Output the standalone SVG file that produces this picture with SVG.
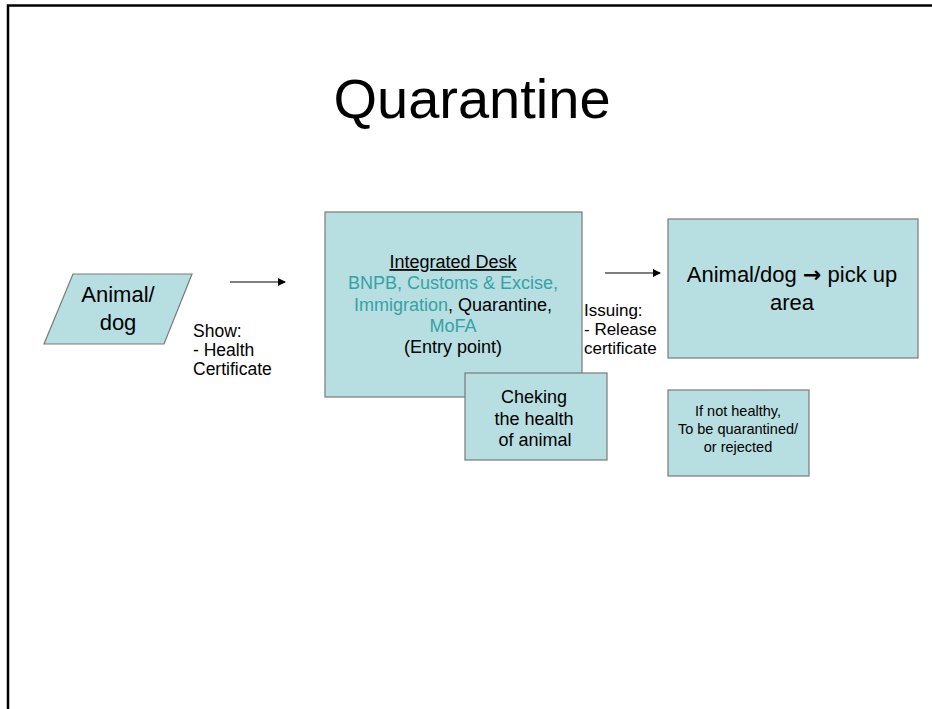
<svg xmlns="http://www.w3.org/2000/svg" width="932" height="709" viewBox="0 0 932 709">
<style>
text{font-family:"Liberation Sans",Arial,sans-serif;fill:#000}
.box{fill:#b7dee1;stroke:#7a7a7a;stroke-width:1.2}
.teal{fill:#33a3a6}
.conn{stroke:#000;stroke-width:1.2;fill:none}
.arr{font-family:"DejaVu Sans",sans-serif;font-weight:bold}
</style>
<defs>
<marker id="ah" markerWidth="8" markerHeight="8" refX="7" refY="4" orient="auto" markerUnits="userSpaceOnUse">
<path d="M0,0 L8,4 L0,8 Z" fill="#000"/>
</marker>
</defs>
<rect width="932" height="709" fill="#fff"/>
<path d="M8,709 V5.5 H932" fill="none" stroke="#000" stroke-width="2.5"/>
<text x="472" y="118" font-size="56" text-anchor="middle">Quarantine</text>

<g id="animal">
<polygon class="box" points="73,274 192,274 164,344 44,344"/>
<text x="118" y="302" font-size="22" text-anchor="middle">Animal/</text>
<text x="118" y="330" font-size="22" text-anchor="middle">dog</text>
</g>

<g id="desk">
<rect class="box" x="325" y="212" width="257" height="185"/>
<text x="453" y="268" font-size="18" text-anchor="middle" text-decoration="underline">Integrated  Desk</text>
<text x="453" y="289" font-size="18" text-anchor="middle" class="teal">BNPB, Customs &amp; Excise,</text>
<text x="453" y="311" font-size="18" text-anchor="middle"><tspan class="teal">Immigration</tspan>, Quarantine,</text>
<text x="453" y="332" font-size="18" text-anchor="middle" class="teal">MoFA</text>
<text x="453" y="353" font-size="18" text-anchor="middle">(Entry point)</text>
</g>

<g id="checking">
<rect class="box" x="465" y="373" width="142" height="87"/>
<text x="534" y="403" font-size="18" text-anchor="middle">Cheking</text>
<text x="534" y="425" font-size="18" text-anchor="middle">the health</text>
<text x="535" y="446" font-size="18" text-anchor="middle">of animal</text>
</g>

<g id="pickup">
<rect class="box" x="668" y="219" width="250" height="139"/>
<text x="792" y="282" font-size="22" text-anchor="middle">Animal/dog <tspan class="arr">→</tspan> pick up</text>
<text x="792" y="310" font-size="22" text-anchor="middle">area</text>
</g>

<g id="rejected">
<rect class="box" x="668" y="390" width="141" height="86"/>
<text x="738" y="416" font-size="14.5" text-anchor="middle">If not healthy,</text>
<text x="738" y="434" font-size="14.5" text-anchor="middle">To be quarantined/</text>
<text x="738" y="452" font-size="14.5" text-anchor="middle">or rejected</text>
</g>

<g id="connectors">
<line class="conn" x1="230" y1="282" x2="285" y2="282" marker-end="url(#ah)"/>
<line class="conn" x1="605" y1="273" x2="660" y2="273" marker-end="url(#ah)"/>
</g>

<g id="labels">
<text x="193" y="337" font-size="17.5">Show:</text>
<text x="193" y="356" font-size="17.5">- Health</text>
<text x="193" y="375" font-size="17.5">Certificate</text>
<text x="584" y="316" font-size="17">Issuing:</text>
<text x="584" y="335" font-size="17">- Release</text>
<text x="584" y="354" font-size="17">certificate</text>
</g>
</svg>
